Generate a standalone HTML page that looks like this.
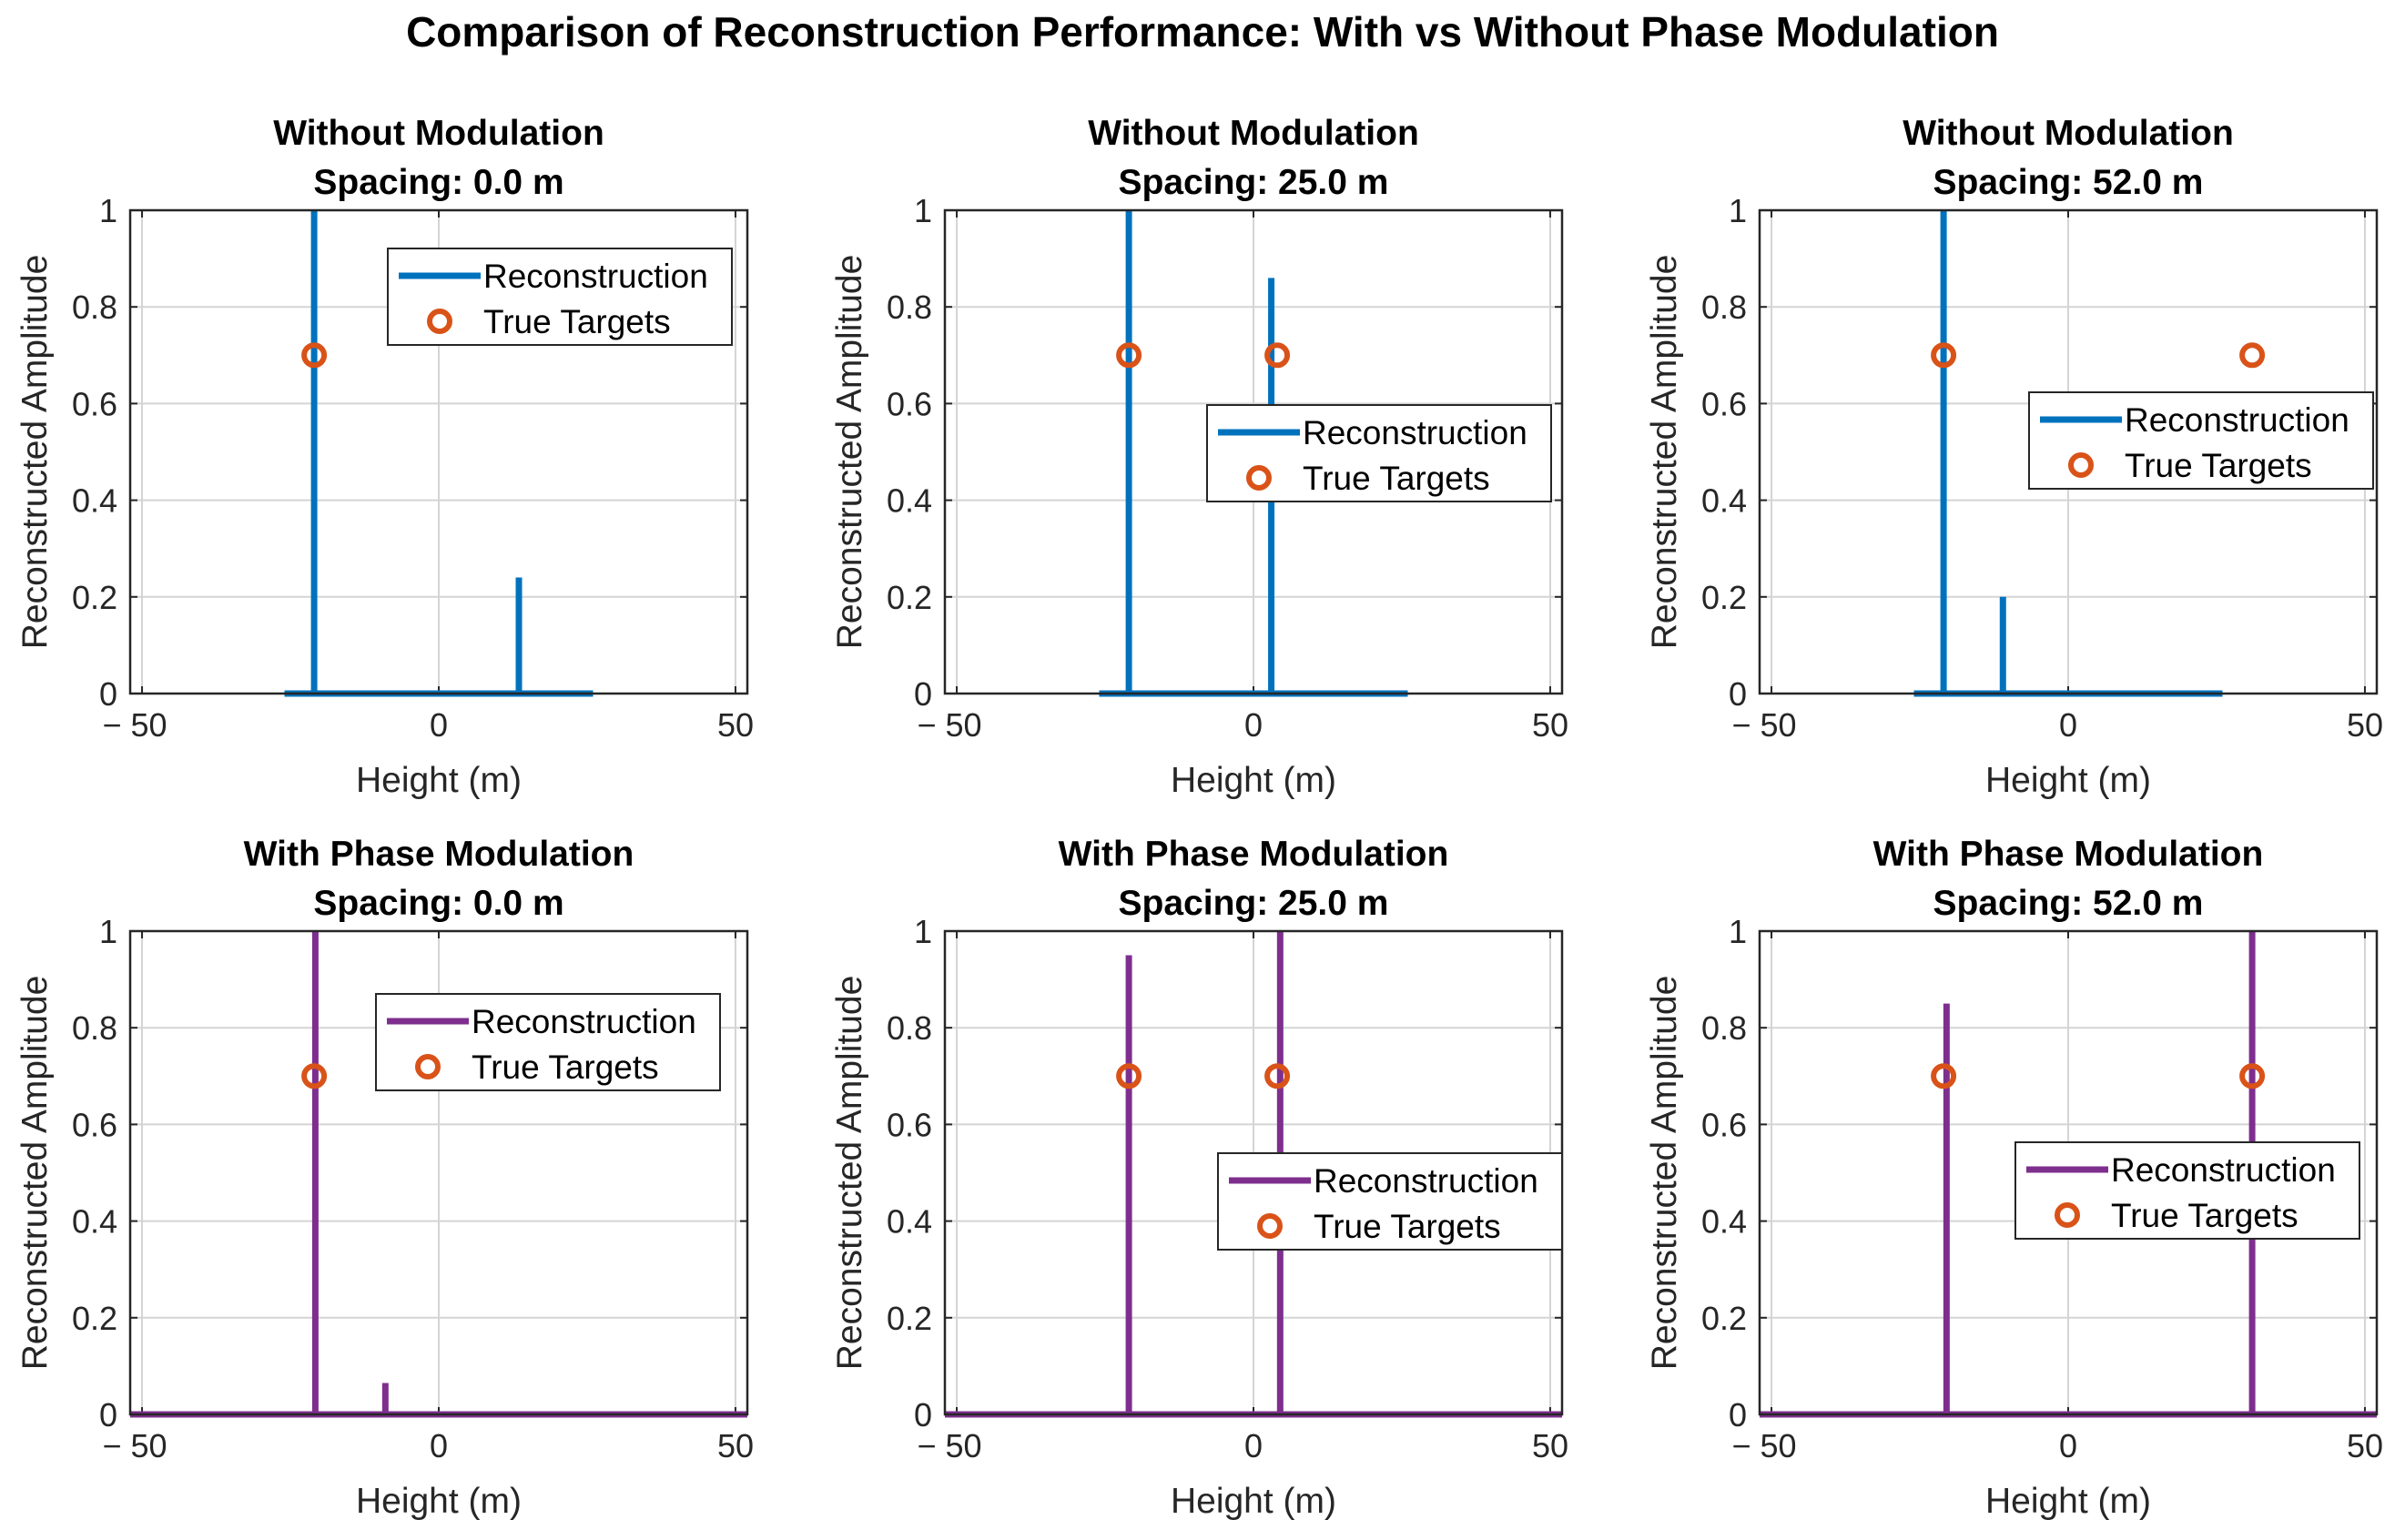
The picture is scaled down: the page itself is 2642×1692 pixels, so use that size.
<!DOCTYPE html>
<html><head><meta charset="utf-8"><style>
html,body{margin:0;padding:0;background:#fff;}
svg{display:block;font-family:"Liberation Sans",Arial,sans-serif;}
</style></head><body>
<svg id="fig" width="2642" height="1692" viewBox="0 0 2642 1692">
<rect width="2642" height="1692" fill="#fff"/>
<text x="1321" y="51" text-anchor="middle" font-size="46" font-weight="bold" fill="#000">Comparison of Reconstruction Performance: With vs Without Phase Modulation</text>
</svg>
<script>
const xTicks=[-50,0,50];
const xTickLabels=['\u2212 50','0','50'];
const yTicks=[0,0.2,0.4,0.6,0.8,1];
const yTickLabels=['0','0.2','0.4','0.6','0.8','1'];
const panelTitles=['Without Modulation','Without Modulation','Without Modulation','With Phase Modulation','With Phase Modulation','With Phase Modulation'];
const spacingLabels=['Spacing: 0.0 m','Spacing: 25.0 m','Spacing: 52.0 m','Spacing: 0.0 m','Spacing: 25.0 m','Spacing: 52.0 m'];
const spikeX=[[-21,13.5],[-21,3],[-21,-11],[-20.8,-9],[-21,4.5],[-20.5,31]];
const spikeY=[[1.0,0.24],[1.0,0.86],[1.0,0.2],[1.0,0.065],[0.95,1.0],[0.85,1.0]];
const baseStart=[-26,-26,-26,-52,-52,-52];
const baseEnd=[26,26,26,52,52,52];
const targetX=[[-21],[-21,4],[-21,31],[-21],[-21,4],[-21,31]];
const targetY=[[0.7],[0.7,0.7],[0.7,0.7],[0.7],[0.7,0.7],[0.7,0.7]];

const NS='http://www.w3.org/2000/svg';
const svg=document.getElementById('fig');
const lefts=[143,1038,1933];
const tops=[231,1023];
const W=678,H=531;
const xmin=-52,xmax=52;
const legendPos=[[426,273],[1326,445],[2229,431],[413,1092],[1338,1267],[2214,1255]];
function el(tag,attrs,parent){const e=document.createElementNS(NS,tag);for(const k in attrs)e.setAttribute(k,attrs[k]);(parent||svg).appendChild(e);return e;}
for(let p=0;p<6;p++){
  const L=lefts[p%3],T=tops[Math.floor(p/3)];
  const color=p<3?'#0072BD':'#7E2F8E';
  const sx=v=>L+(v-xmin)/(xmax-xmin)*W;
  const sy=v=>T+H-v*H;
  const g=el('g',{});
  
  
  el('rect',{x:L,y:T,width:W,height:H,fill:'#fff'},g);
  xTicks.forEach((t,i)=>{
    const l=el('line',{x1:sx(t),x2:sx(t),y1:T,y2:T+H,stroke:'#d4d4d4','stroke-width':2},g);
    
    
    el('line',{x1:sx(t),x2:sx(t),y1:T+H,y2:T+H-8,stroke:'#262626','stroke-width':2},g);
    el('line',{x1:sx(t),x2:sx(t),y1:T,y2:T+8,stroke:'#262626','stroke-width':2},g);
    const tx=el('text',{x:sx(t)+(i==0?-8:0),y:T+H+47,'text-anchor':'middle','font-size':36,fill:'#262626'},g);
    tx.textContent=xTickLabels[i];
    
    
  });
  yTicks.forEach((t,i)=>{
    const l=el('line',{x1:L,x2:L+W,y1:sy(t),y2:sy(t),stroke:'#d4d4d4','stroke-width':2},g);
    
    
    el('line',{x1:L,x2:L+8,y1:sy(t),y2:sy(t),stroke:'#262626','stroke-width':2},g);
    el('line',{x1:L+W,x2:L+W-8,y1:sy(t),y2:sy(t),stroke:'#262626','stroke-width':2},g);
    const tx=el('text',{x:L-14,y:sy(t)+13,'text-anchor':'end','font-size':36,fill:'#262626'},g);
    tx.textContent=yTickLabels[i];
    
    
  });
  const b=el('line',{x1:sx(baseStart[p]),x2:sx(baseEnd[p]),y1:sy(0),y2:sy(0),stroke:color,'stroke-width':7},g);
  
  
  spikeX[p].forEach((x,i)=>{
    const s=el('line',{x1:sx(x),x2:sx(x),y1:sy(0),y2:sy(spikeY[p][i]),stroke:color,'stroke-width':7},g);
    
    
  });
  targetX[p].forEach((x,i)=>{
    const c=el('circle',{cx:sx(x),cy:sy(targetY[p][i]),r:11,fill:'none',stroke:'#D95319','stroke-width':6},g);
    
    
  });
  el('rect',{x:L,y:T,width:W,height:H,fill:'none',stroke:'#262626','stroke-width':2.5},g);
  const t1=el('text',{x:L+W/2,y:T-72,'text-anchor':'middle','font-size':39,'font-weight':'bold',fill:'#000'},g);
  t1.textContent=panelTitles[p];
  
  
  const t2=el('text',{x:L+W/2,y:T-18,'text-anchor':'middle','font-size':39,'font-weight':'bold',fill:'#000'},g);
  t2.textContent=spacingLabels[p];
  
  
  const xl=el('text',{x:L+W/2,y:T+H+108,'text-anchor':'middle','font-size':39,fill:'#262626'},g);
  xl.textContent='Height (m)';
  
  
  const yl=el('text',{x:0,y:0,'text-anchor':'middle','font-size':39,fill:'#262626',transform:'translate('+(L-92)+','+(T+H/2)+') rotate(-90)'},g);
  yl.textContent='Reconstructed Amplitude';
  
  
  const [lx,ly]=legendPos[p];
  const lg=el('g',{},g);
  
  
  el('rect',{x:lx,y:ly,width:378,height:106,fill:'#fff',stroke:'#262626','stroke-width':2},lg);
  el('line',{x1:lx+12,x2:lx+102,y1:ly+30,y2:ly+30,stroke:color,'stroke-width':7},lg);
  const r1=el('text',{x:lx+105,y:ly+43,'font-size':37,fill:'#000'},lg);
  r1.textContent='Reconstruction';
  
  
  el('circle',{cx:lx+57,cy:ly+80,r:11,fill:'none',stroke:'#D95319','stroke-width':6},lg);
  const r2=el('text',{x:lx+105,y:ly+93,'font-size':37,fill:'#000'},lg);
  r2.textContent='True Targets';
  
  
}
</script>
</body></html>
